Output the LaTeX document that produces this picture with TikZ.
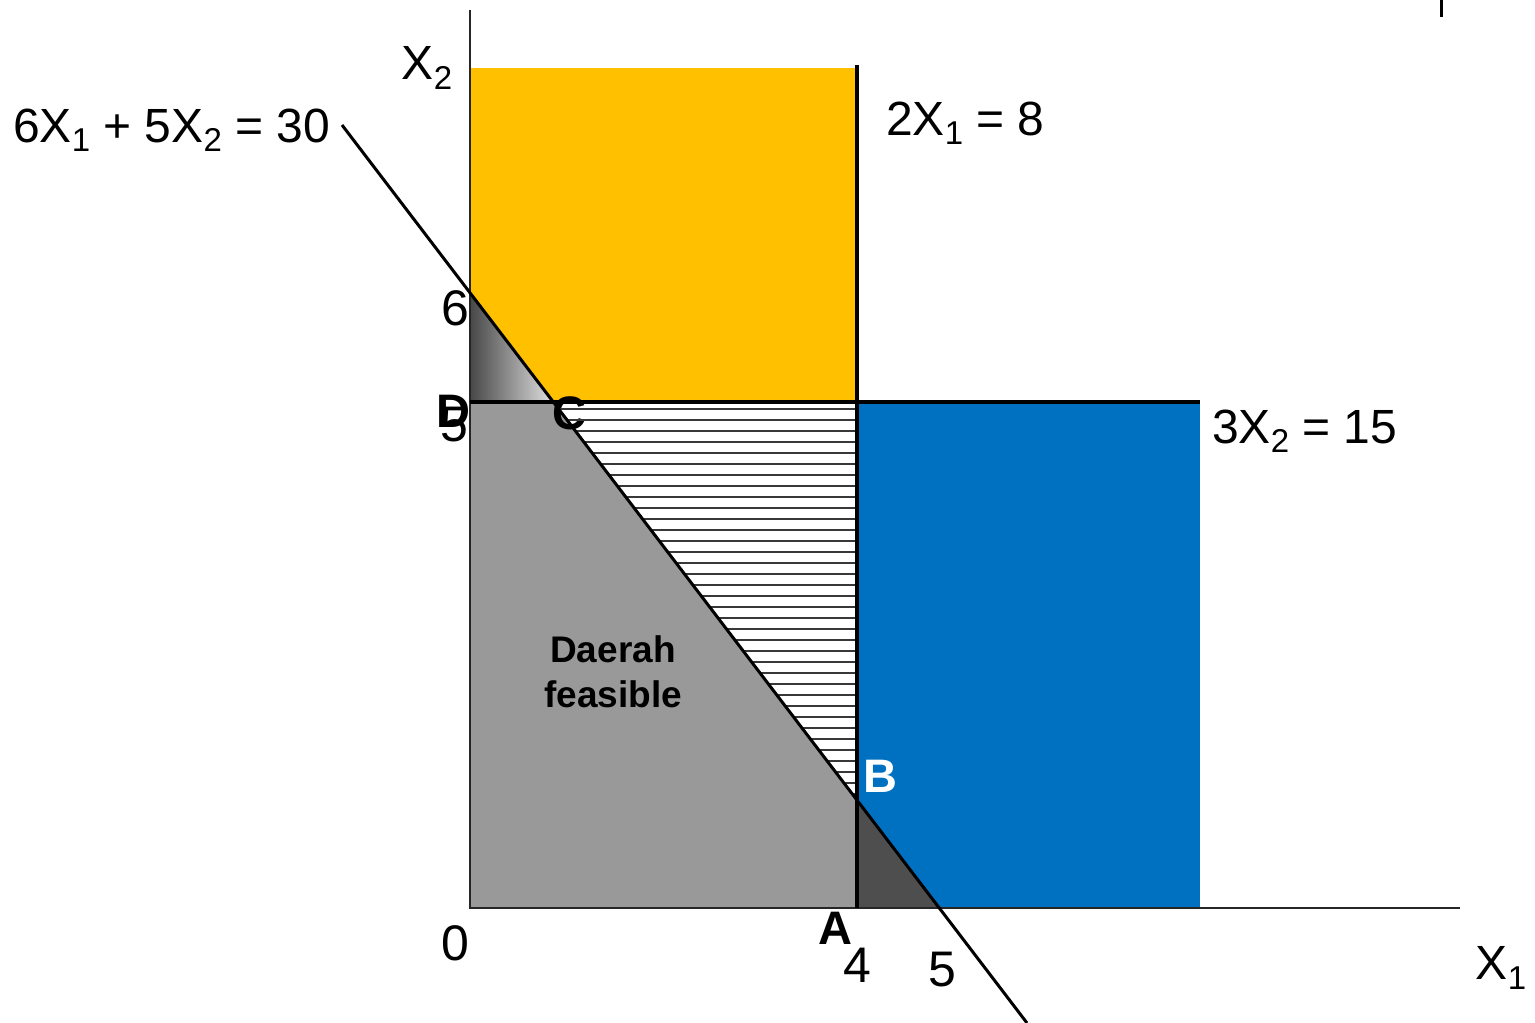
\documentclass[tikz,border=0pt]{standalone}
\usepackage{fontspec}
\setmainfont{Liberation Sans}
\definecolor{orangeF}{RGB}{255,192,0}
\definecolor{blueF}{RGB}{0,112,192}
\definecolor{grayF}{RGB}{153,153,153}
\definecolor{darkF}{RGB}{78,78,78}
\newcommand{\sbs}[1]{\raisebox{-0.2em}{\fontsize{33}{36}\selectfont #1}}
\tikzset{
  lbl/.style={inner sep=0pt, anchor=base west, font=\fontsize{48}{58}\selectfont},
  num/.style={inner sep=0pt, font=\fontsize{50}{54}\selectfont},
  ptlbl/.style={inner sep=0pt, font=\fontsize{47}{50}\selectfont\bfseries},
  axisline/.style={line width=2pt, black!85},
  bound/.style={line width=4pt, black},
  objline/.style={line width=3pt, black},
  hatchline/.style={line width=2.8pt, black!78}
}
\begin{document}
\begin{tikzpicture}[x=1pt,y=-1pt]
\useasboundingbox (0,0) rectangle (1535,1023);
% key coordinates
\coordinate (O) at (470,908);
\coordinate (Ytop) at (470,10);
\coordinate (Xend) at (1460,908);
\coordinate (P6) at (470,293);
\coordinate (D) at (470,402);
\coordinate (C) at (553,402);
\coordinate (E) at (857,402);
\coordinate (B) at (857,800);
\coordinate (A) at (857,908);
\coordinate (P5) at (939,908);
\coordinate (Ltop) at (342,125);
\coordinate (Lbot) at (1027,1023);
\coordinate (Vtop) at (857,65);
\coordinate (Hend) at (1200,402);
% fills
\fill[orangeF] (470,68) rectangle (E);
\fill[blueF] (E) rectangle (1200,908);
\fill[grayF] (D) -- (C) -- (B) -- (A) -- (O) -- cycle;
\shade[left color=black!72, middle color=black!62, right color=black!12] (P6) -- (C) -- (D) -- cycle;
\fill[darkF] (B) -- (P5) -- (A) -- cycle;
\draw[blueF, line width=1.5pt] (D) -- (O);
% label C (partly under the hatching)
\node[ptlbl] (lc) at (569,413) {C};
% hatching
\begin{scope}
  \clip (C) -- (E) -- (B) -- cycle;
  \foreach \yy in {409,420,...,800} \draw[hatchline] (540,\yy) -- (857,\yy);
\end{scope}
% axes
\draw[axisline] (Ytop) -- (O) -- (Xend);
% constraint lines
\draw[bound] (Vtop) -- (A);
\draw[bound] (D) -- (Hend);
\draw[objline] (Ltop) -- (Lbot);
\coordinate (tk1) at (1441,0);
\coordinate (tk2) at (1441,17);
\draw[line width=3pt] (tk1) -- (tk2);
% labels
\node[inner sep=0pt, font=\fontsize{48}{58}\selectfont] (lx2) at (427,68) {X\sbs{2}};
\node[inner sep=0pt, font=\fontsize{48}{58}\selectfont] (lx1) at (1501,968) {X\sbs{1}};
\node[lbl] (eq1) at (13,142) {6X\sbs{1} + 5X\sbs{2} = 30};
\node[lbl] (eq2) at (886,135) {2X\sbs{1} = 8};
\node[lbl] (eq3) at (1212,443) {3X\sbs{2} = 15};
\node[num] (l6) at (455,308) {6};
\node[num] (l5y) at (454,425) {5};
\node[ptlbl] (ld) at (453,411) {D};
\node[num] (l0) at (455,943) {0};
\node[num] (l4) at (857,965) {4};
\node[num] (l5x) at (942,970) {5};
\node[ptlbl, white] (lb) at (880,776) {B};
\node[ptlbl] (la) at (835,928) {A};
\node[inner sep=0pt, align=center, font=\fontsize{37}{45}\selectfont\bfseries] (feas) at (613,672) {Daerah\\feasible};
\end{tikzpicture}
\end{document}
